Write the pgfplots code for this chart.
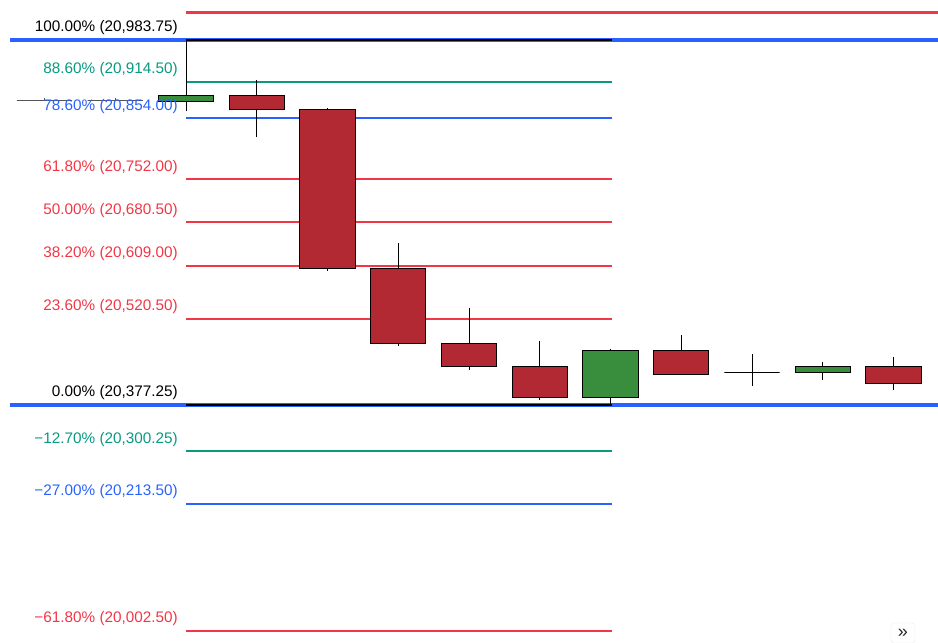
\documentclass[border=0pt]{standalone}
\usepackage{pgfplots}
\pgfplotsset{compat=1.18}
\usepackage{fontspec}
\setmainfont{Liberation Sans}
\definecolor{fibred}{HTML}{F23645}
\definecolor{fibteal}{HTML}{089981}
\definecolor{fibblue}{HTML}{2962FF}
\definecolor{cred}{HTML}{B22833}
\definecolor{cgreen}{HTML}{388E3C}
\definecolor{dojigray}{HTML}{555555}

% candle: x, open, close, high, low, fill colour, outline colour
\newcommand{\candle}[7]{%
  \pgfmathsetmacro{\xl}{#1-0.389}\pgfmathsetmacro{\xr}{#1+0.389}%
  \addplot[#7, line width=1pt] coordinates {(#1,#5) (#1,#4)};
  \addplot[fill=#6, draw=#7, line width=1pt] coordinates {(\xl,#2) (\xr,#2) (\xr,#3) (\xl,#3)} -- cycle;
}
\newcommand{\lvl}[5]{% y, x0, x1, colour, width
  \addplot[#4, line width=#5] coordinates {(#2,#1) (#3,#1)};
}
\newcommand{\lbl}[3]{% y, colour, text
  \node[anchor=base east, text=#2, font=\fontsize{15.3}{18}\selectfont, inner sep=0pt]
    at (axis cs:-0.113,#1) [yshift=8pt] {#3};
}

\begin{document}
\begin{tikzpicture}
\begin{axis}[
  name=ax,
  width=938pt, height=642pt, scale only axis,
  xmin=-2.629, xmax=10.629,
  ymin=19983.44, ymax=21050.21,
  hide axis, clip=false,
]
% Fibonacci level lines
\lvl{21030}{0}{10.629}{fibred}{3pt}
\lvl{20983.75}{-2.488}{10.629}{fibblue}{3.5pt}
\lvl{20914.5}{0}{6.02}{fibteal}{2pt}
\lvl{20854}{0}{6.02}{fibblue}{2pt}
\lvl{20752}{0}{6.02}{fibred}{2pt}
\lvl{20680.5}{0}{6.02}{fibred}{2pt}
\lvl{20609}{0}{6.02}{fibred}{2pt}
\lvl{20520.5}{0}{6.02}{fibred}{2pt}
\lvl{20377.25}{-2.488}{10.629}{fibblue}{3.5pt}
\lvl{20300.25}{0}{6.02}{fibteal}{2pt}
\lvl{20213.5}{0}{6.02}{fibblue}{2pt}
\lvl{20002.5}{0}{6.02}{fibred}{2pt}
% anchor lines of the drawing
\lvl{20983.75}{0}{6.02}{black}{2pt}
\lvl{20377.25}{0}{6.02}{black}{2pt}

% candles: x, open, close, high, low
\candle{-2}{20884}{20884}{20887.5}{20884}{dojigray}{dojigray}
\candle{-1}{20884}{20884}{20887.5}{20884}{dojigray}{dojigray}
\candle{0}{20880.75}{20890.75}{20983.75}{20865.75}{cgreen}{black}
\candle{1}{20890.75}{20869}{20917.25}{20822.5}{cred}{black}
\candle{2}{20869}{20604}{20870.75}{20600}{cred}{black}
\candle{3}{20603.25}{20480.25}{20646.5}{20475.25}{cred}{black}
\candle{4}{20480.25}{20442}{20538.5}{20435.5}{cred}{black}
\candle{5}{20442}{20390.5}{20483.5}{20385.5}{cred}{black}
\candle{6}{20390.5}{20467}{20470.25}{20377.25}{cgreen}{black}
\candle{7}{20467}{20428.75}{20493.5}{20428.75}{cred}{black}
\candle{8}{20430.5}{20430.5}{20462}{20408.75}{black}{black}
\candle{9}{20432}{20440.5}{20448.75}{20418.75}{cgreen}{black}
\candle{10}{20440.5}{20413.75}{20457}{20402}{cred}{black}

% labels
\lbl{20983.75}{black}{100.00\% (20,983.75)}
\lbl{20914.5}{fibteal}{88.60\% (20,914.50)}
\lbl{20854}{fibblue}{78.60\% (20,854.00)}
\lbl{20752}{fibred}{61.80\% (20,752.00)}
\lbl{20680.5}{fibred}{50.00\% (20,680.50)}
\lbl{20609}{fibred}{38.20\% (20,609.00)}
\lbl{20520.5}{fibred}{23.60\% (20,520.50)}
\lbl{20377.25}{black}{0.00\% (20,377.25)}
\lbl{20300.25}{fibteal}{−12.70\% (20,300.25)}
\lbl{20213.5}{fibblue}{−27.00\% (20,213.50)}
\lbl{20002.5}{fibred}{−61.80\% (20,002.50)}

\node[draw=black!8, fill=white, rounded corners=3pt, minimum width=24pt, minimum height=20pt,
      font=\fontsize{18}{18}\selectfont, text=black!85, anchor=center, inner sep=0pt]
  at (axis cs:10.134,19998.4) {»};
\end{axis}
\pgfresetboundingbox
\path (ax.south west) rectangle (ax.north east);
\end{tikzpicture}
\end{document}
